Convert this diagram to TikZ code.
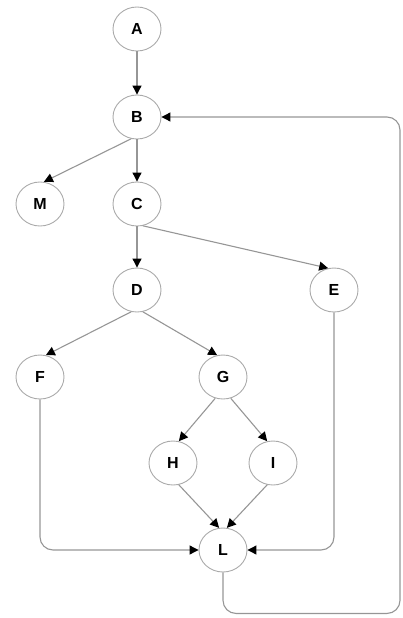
\documentclass[tikz,border=0pt]{standalone}
\usepackage{fontspec}
\setmainfont{Liberation Sans}
\usetikzlibrary{arrows.meta,positioning,shapes.geometric}
\definecolor{edgegray}{RGB}{150,150,150}
\definecolor{rimgray}{RGB}{170,170,170}
\begin{document}
\begin{tikzpicture}[x=1pt,y=1pt,on grid,node distance=87pt and 97pt,
 every node/.style={font=\fontsize{16}{16}\selectfont\bfseries},
 state/.style={draw=rimgray,line width=0.9pt,ellipse,inner sep=0pt,
  minimum width=48pt,minimum height=44pt},
 flow/.style={-{Triangle[length=9pt,width=9pt,black]},draw=edgegray,line width=1.1pt},
 loop/.style={flow,rounded corners=13pt}]
\useasboundingbox (0,0) rectangle (403,-618);
\node[state] (A) at (137,-29) {A};
\node[state,below=88pt of A] (B) {B};
\node[state,below=87pt of B] (C) {C};
\node[state,left=97pt of C] (M) {M};
\node[state,below=86pt of C] (D) {D};
\node[state,right=197pt of D] (E) {E};
\node[state,below left=87pt and 97pt of D] (F) {F};
\node[state,below right=87pt and 86pt of D] (G) {G};
\node[state,below left=86pt and 50pt of G] (H) {H};
\node[state,below right=86pt and 50pt of G] (I) {I};
\node[state,below right=87pt and 50pt of H] (L) {L};
\draw[flow] (A) -- (B);
\draw[flow] (B.-105) -- (M.80);
\draw[flow] (B) -- (C);
\draw[flow] (C) -- (D);
\draw[flow] (C.-75) -- (E.105);
\draw[flow] (D.-105) -- (F.75);
\draw[flow] (D.-75) -- (G.105);
\draw[flow] (G.-110) -- (H.75);
\draw[flow] (G.-70) -- (I.105);
\draw[flow] (H.-75) -- (L.100);
\draw[flow] (I.-105) -- (L.80);
\draw[loop] (F.south) |- (L.west);
\draw[loop] (E.south) |- (L.east);
\draw[loop] (L.south) -- ++(0,-41) -| (400,-117) -- (B.east);
\end{tikzpicture}
\end{document}
